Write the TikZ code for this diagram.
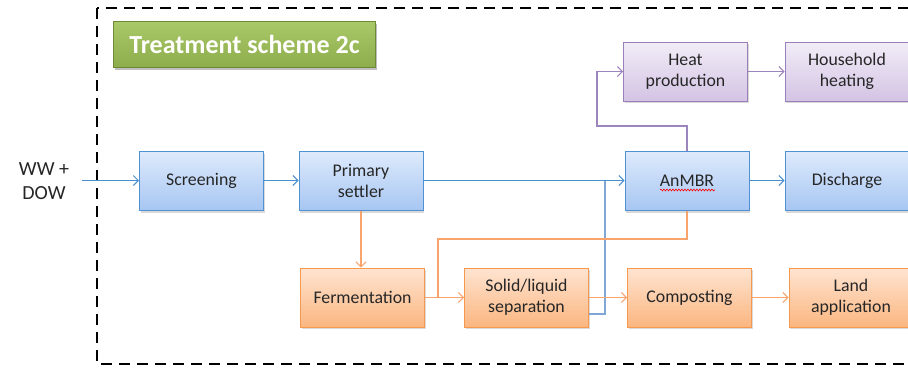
\documentclass[tikz,border=0pt]{standalone}
\usepackage{fontspec}
\setmainfont{Carlito}
\usetikzlibrary{arrows.meta,shadows,decorations.pathmorphing}
\definecolor{bluetop}{HTML}{DEEAFC}
\definecolor{bluebot}{HTML}{A6C6F2}
\definecolor{blueedge}{HTML}{4F91D3}
\definecolor{orgtop}{HTML}{FEE4D1}
\definecolor{orgbot}{HTML}{FBB680}
\definecolor{orgedge}{HTML}{F6994F}
\definecolor{purtop}{HTML}{F2ECF7}
\definecolor{purbot}{HTML}{D3C4E4}
\definecolor{puredge}{HTML}{9A80BB}
\definecolor{grntop}{HTML}{A9C867}
\definecolor{grnbot}{HTML}{8DAC4B}
\definecolor{grnedge}{HTML}{6E8A37}
\definecolor{bluewire}{HTML}{4A8FD0}
\definecolor{bluewire2}{HTML}{7FA6D4}
\definecolor{orgwire}{HTML}{F8A46C}
\definecolor{purwire}{HTML}{9C84BC}
\definecolor{txt}{HTML}{262626}
\tikzset{
  procbox/.style={draw, line width=1pt, minimum width=124pt, minimum height=59pt,
    inner sep=2pt, align=center, text=txt,
    font=\fontsize{17.8}{21.5}\selectfont,
    drop shadow={shadow xshift=1pt, shadow yshift=-2pt, opacity=0.15, fill=black}},
  bluebox/.style={procbox, draw=blueedge, top color=bluetop, bottom color=bluebot},
  orgbox/.style={procbox, draw=orgedge, top color=orgtop, bottom color=orgbot},
  purbox/.style={procbox, draw=puredge, top color=purtop, bottom color=purbot},
  tip/.style={-{Straight Barb[length=5pt,width=10pt,line width=1pt]}},
  bwire/.style={draw=bluewire, line width=1.2pt},
  owire/.style={draw=orgwire, line width=1.2pt},
  pwire/.style={draw=purwire, line width=1.2pt},
}
\begin{document}
\begin{tikzpicture}[x=1pt,y=-1pt]
  \path[use as bounding box, clip] (0,0) rectangle (908,367);
  \fill[white] (0,0) rectangle (908,367);

  % system boundary
  \draw[black, line width=2pt, dash pattern=on 11pt off 7pt] (97,8) rectangle (930,364);

  % scheme title
  \node[draw=grnedge, line width=1pt, top color=grntop, bottom color=grnbot,
        minimum width=262pt, minimum height=46pt, inner sep=0pt,
        text=white, font=\fontsize{26}{30}\selectfont\bfseries,
        drop shadow={shadow xshift=1pt, shadow yshift=-2pt, opacity=0.25, fill=black}]
        (title) at (244.5,44.5) {Treatment scheme 2c};

  % influent
  \node[text=txt, align=center, font=\fontsize{20}{24}\selectfont] (inflow) at (44,181) {WW +\\DOW};
  \coordinate (src) at (82,180.5);

  % water line
  \node[bluebox] (scr)  at (201.5,181) {Screening};
  \node[bluebox] (prim) at (361,181) {Primary\\settler};
  \node[bluebox] (anmbr) at (687,181) {AnMBR};
  \node[bluebox] (dis)  at (847,181) {Discharge};

  % energy line
  \node[purbox] (heat) at (685.5,71.5) {Heat\\production};
  \node[purbox] (house) at (847,71.5) {Household\\heating};

  % sludge line
  \node[orgbox] (ferm)  at (362.5,297.5) {Fermentation};
  \node[orgbox] (sep)   at (526.5,297.5) {Solid/liquid\\separation};
  \node[orgbox] (comp)  at (689.5,297.5) {Composting};
  \node[orgbox] (land)  at (851,297.5) {Land\\application};

  % spell-check underline under AnMBR
  \coordinate (squigA) at (660,190);
  \coordinate (squigB) at (715,190);
  \draw[red, line width=0.6pt, decorate, decoration={snake, amplitude=0.9pt, segment length=3pt}] (squigA) -- (squigB);

  % junction points
  \coordinate (jb) at (605,180.5);
  \coordinate (pk) at (597,126);
  \coordinate (ok) at (438,239);
  \coordinate (oj) at (438,297.5);

  % water connectors
  \draw[bwire, tip] (src) -- (src -| scr.west);
  \draw[bwire, tip] (scr.east |- src) -- (prim.west |- src);
  \draw[bwire, tip] (prim.east |- src) -- (anmbr.west |- src);
  \draw[bwire, tip] (anmbr.east |- src) -- (dis.west |- src);
  \draw[draw=bluewire2, line width=1.2pt] ([yshift=-16.5pt]sep.east) -| (jb);

  % energy connectors
  \draw[pwire, tip] (anmbr.north) |- (pk) |- (heat.west);
  \draw[pwire, tip] (heat.east) -- (house.west |- heat.east);

  % sludge connectors
  \draw[owire, tip] (prim.south) -- (prim.south |- ferm.north);
  \draw[owire, tip] (ferm.east) -- (sep.west);
  \draw[owire] (anmbr.south) |- (ok) -- (oj);
  \draw[owire, tip] (sep.east) -- (comp.west);
  \draw[owire, tip] (comp.east) -- (land.west);
\end{tikzpicture}
\end{document}
